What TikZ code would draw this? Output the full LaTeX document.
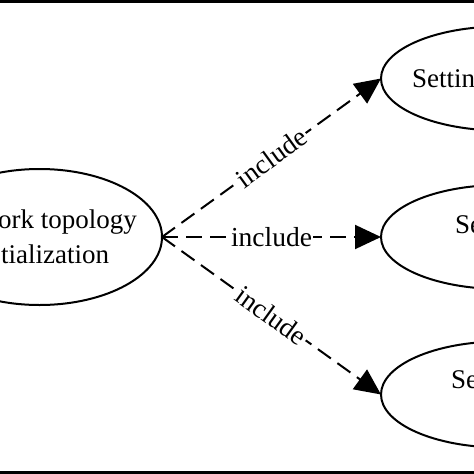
\documentclass[tikz,border=0pt]{standalone}
\usepackage{fontspec}
\setmainfont{Liberation Serif}
\usetikzlibrary{arrows.meta,shapes.geometric}
\tikzset{
   usecase/.style={ellipse,draw,line width=2pt,inner sep=0pt,outer sep=0pt},
   frag/.style={anchor=base west,inner sep=0pt,font=\fontsize{27}{33}\selectfont},
   incl/.style={->,line width=2pt,dash pattern=on 16pt off 8pt,>={Triangle[length=26pt,width=24pt]}},
   incllab/.style={midway,sloped,fill=white,inner sep=1.5pt,font=\fontsize{27.5}{33}\selectfont},
   frame/.style={line width=3pt},
}

\begin{document}
\begin{tikzpicture}[x=1pt,y=-1pt]
        \useasboundingbox (0,0) rectangle (474,474);
        \clip (0,0) rectangle (474,474);
        \draw[frame] (-10,1.5) rectangle (484,472.5);

        \node[usecase,minimum width=245pt,minimum height=136pt] (topo) at (39.5,237) {};
        \node[usecase,minimum width=240pt,minimum height=104pt] (set)  at (501,78.5) {};
        \node[usecase,minimum width=240pt,minimum height=104pt] (selb) at (501,237) {};
        \node[usecase,minimum width=240pt,minimum height=106pt] (selc) at (501,394.5) {};

        \node[frag] (topoa) at (-2,228) {ork topology};
        \node[frag] (topob) at (1,263) {tialization};
        \node[frag] (seta)  at (412,87) {Settin};
        \node[frag] (selba) at (455,233) {Se};
        \node[frag] (selca) at (451,388) {Se};

        \draw[incl] (topo.east) -- node[incllab] (la) {include} (set.west);
        \draw[incl] (topo.east) -- node[incllab] (lb) {include} (selb.west);
        \draw[incl] (topo.east) -- node[incllab] (lc) {include} (selc.west);
    \end{tikzpicture}
\end{document}
